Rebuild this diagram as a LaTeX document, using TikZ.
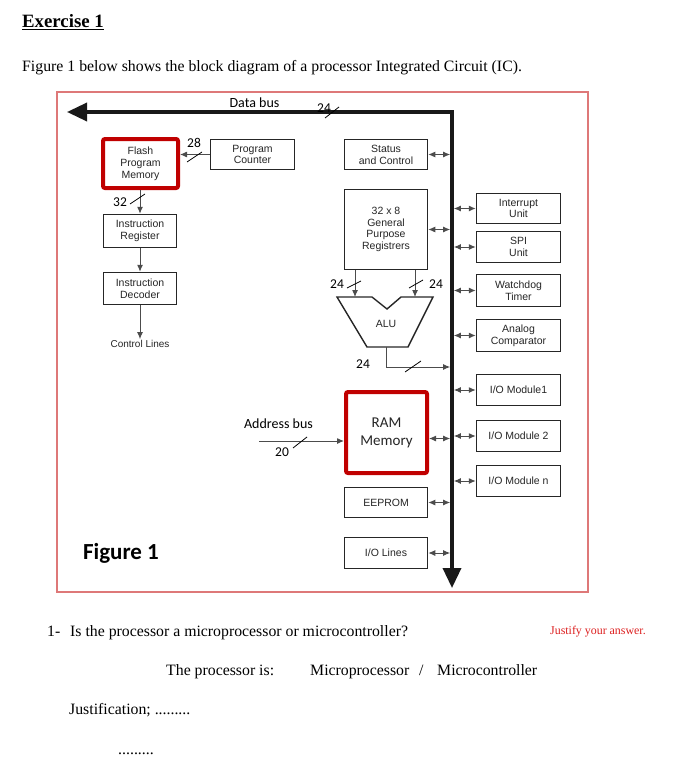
\documentclass[tikz,border=0pt]{standalone}
\usepackage{fontspec}
\setmainfont{Liberation Serif}
\newfontfamily\arialf{Liberation Sans}
\newfontfamily\calib{Carlito}
\usetikzlibrary{arrows.meta,calc}
\definecolor{frameRed}{RGB}{222,120,120}
\definecolor{boxRed}{RGB}{192,0,0}
\definecolor{qRed}{RGB}{220,30,30}
\begin{document}
\begin{tikzpicture}[x=1pt,y=-1pt,
  box/.style={draw=black!85, line width=1.5pt, fill=white, align=center, inner sep=0pt,
    font=\arialf\fontsize{10.5}{11.8}\selectfont, text=black!85},
  redbox/.style={box, draw=boxRed, line width=4pt, rounded corners=2pt},
  conn/.style={draw=black!70, line width=1pt, -{Latex[length=7pt,width=6pt]}},
  dconn/.style={draw=black!70, line width=1pt, {Latex[length=7pt,width=6pt]}-{Latex[length=7pt,width=6pt]}},
  bus/.style={line width=3.5pt, draw=black!90, line join=miter},
  slash/.style={draw=black, line width=0.8pt},
  num/.style={font=\calib\fontsize{13.5}{14}\selectfont, inner sep=0pt},
  txt/.style={font=\fontsize{15.8}{18}\selectfont, anchor=base west, inner sep=0pt}
]
\useasboundingbox (0,0) rectangle (676,765);

% header text
\node[txt, font=\bfseries\fontsize{18.8}{21}\selectfont] (ex) at (22,28) {\underline{Exercise 1}};
\node[txt] (intro) at (22,72) {Figure 1 below shows the block diagram of a processor Integrated Circuit (IC).};

% frame
\draw[frameRed, line width=1.3pt] (57,92) rectangle (588,592);

% bus
\coordinate (busL) at (67,112);
\coordinate (busC) at (452,112);
\coordinate (busB) at (452,588);
\draw[bus, {Triangle[length=20pt,width=18pt]}-{Triangle[length=20pt,width=18pt]}] (busL) -- (busC) -- (busB);
\node[font=\calib\fontsize{14}{15}\selectfont, inner sep=0pt] (dbus) at (254.5,103) {Data bus};
\node[num] (n24a) at (324,108) {24};
\draw[slash] (325,118) -- (339,107);

% left column
\node[redbox, minimum width=75pt, minimum height=49pt] (flash) at (140.5,163.5) {Flash\\Program\\Memory};
\node[box, minimum width=84pt, minimum height=30pt] (pc) at (252.5,154.5) {Program\\Counter};
\node[box, minimum width=73pt, minimum height=33pt] (ir) at (140,231) {Instruction\\Register};
\node[box, minimum width=73pt, minimum height=32pt] (id) at (140,288.5) {Instruction\\Decoder};
\node[font=\arialf\fontsize{10}{11}\selectfont, text=black!85, inner sep=1pt] (ctl) at (140,344) {Control Lines};

\draw[conn] (pc.west) -- (pc.west -| flash.east);
\draw[slash] (187,162) -- (202,152);
\node[num] (n28) at (194,143) {28};
\draw[conn] (flash.south -| ir.north) -- (ir.north);
\draw[slash] (130,204) -- (145,194);
\node[num] (n32) at (120,202) {32};
\draw[conn] (ir.south) -- (id.north);
\draw[conn] (id.south) -- (ctl.north);

% middle column
\node[box, minimum width=83pt, minimum height=30pt] (status) at (386,154.5) {Status\\and Control};
\node[box, minimum width=83pt, minimum height=80pt] (gpr) at (386,229.5) {32 x 8\\General\\Purpose\\Registrers};
\draw[dconn, shorten >=1.8pt] (status.east) -- (status.east -| busC);
\draw[dconn, shorten >=1.8pt] (gpr.east) -- (gpr.east -| busC);

% ALU
\coordinate (aluL) at (355,297);
\coordinate (aluR) at (415,297);
\coordinate (aluOut) at (386,347);
\coordinate (aluBus) at (452,367);
\draw[line width=1.4pt, draw=black!85, line join=miter] (337,297) -- (372,297) -- (387,309) -- (401,297) -- (433,297) -- (408,347) -- (367,347) -- cycle;
\node[font=\arialf\fontsize{10.5}{11}\selectfont, text=black!85] (alu) at (386,324) {ALU};
\draw[conn] (gpr.south -| aluL) -- (aluL);
\draw[conn] (gpr.south -| aluR) -- (aluR);
\draw[slash] (347,288) -- (361,281);
\draw[slash] (409,288) -- (423,280);
\node[num] (n24b) at (337,284) {24};
\node[num] (n24c) at (436,284) {24};
\draw[conn, shorten >=1.8pt] (aluOut) |- (aluBus);
\draw[slash] (405,372) -- (421,361);
\node[num] (n24d) at (363,364) {24};

% memory
\node[redbox, minimum width=81pt, minimum height=81pt, font=\calib\fontsize{15}{18}\selectfont] (ram) at (386.5,432.5) {RAM\\Memory};
\node[box, minimum width=83pt, minimum height=30pt] (eeprom) at (386,502.5) {EEPROM};
\node[box, minimum width=83pt, minimum height=31pt] (iol) at (386,553) {I/O Lines};
\coordinate (ramE) at ($(ram.east)+(0,6)$);
\draw[dconn, shorten >=1.8pt] (ramE) -- (ramE -| busC);
\draw[dconn, shorten >=1.8pt] (eeprom.east) -- (eeprom.east -| busC);
\draw[dconn, shorten >=1.8pt] (iol.east) -- (iol.east -| busC);

\coordinate (addr) at (259,441);
\node[font=\calib\fontsize{14}{15}\selectfont, inner sep=0pt] (abus) at (278.5,424) {Address bus};
\draw[conn] (addr) -- (addr -| ram.west);
\draw[slash] (293,448) -- (307,437);
\node[num] (n20) at (282,452) {20};

% right column
\node[box, minimum width=84pt, minimum height=30pt] (intr) at (518.5,208.5) {Interrupt\\Unit};
\node[box, minimum width=84pt, minimum height=31pt] (spi) at (518.5,247) {SPI\\Unit};
\node[box, minimum width=84pt, minimum height=32pt] (wdt) at (518.5,290.5) {Watchdog\\Timer};
\node[box, minimum width=84pt, minimum height=32pt] (acmp) at (518.5,335.5) {Analog\\Comparator};
\node[box, minimum width=84pt, minimum height=31pt] (io1) at (518.5,390) {I/O Module1};
\node[box, minimum width=84pt, minimum height=31pt] (io2) at (518.5,436) {I/O Module 2};
\node[box, minimum width=84pt, minimum height=31pt] (ion) at (518.5,481) {I/O Module n};
\foreach \m in {intr,spi,wdt,acmp,io1,io2,ion}{
  \draw[dconn, shorten <=1.8pt] (\m.west -| busC) -- (\m.west);
}

\node[font=\calib\bfseries\fontsize{23}{26}\selectfont, inner sep=0pt] (fig) at (121,553) {Figure 1};

% question text
\node[txt] (q1n) at (47,636) {1-};
\node[txt] (q1) at (70,636) {Is the processor a microprocessor or microcontroller?};
\node[txt, font=\fontsize{11.9}{13}\selectfont, text=qRed] (just) at (550,634) {Justify your answer.};
\node[txt] (procis) at (166,675) {The processor is:};
\node[txt] (mp) at (310,675) {Microprocessor};
\node[txt] (sl) at (419,675) {/};
\node[txt] (mc) at (437,675) {Microcontroller};
\node[txt] (jst) at (69,714) {Justification; .........};
\node[txt] (dots) at (118,754) {.........};
\end{tikzpicture}
\end{document}
